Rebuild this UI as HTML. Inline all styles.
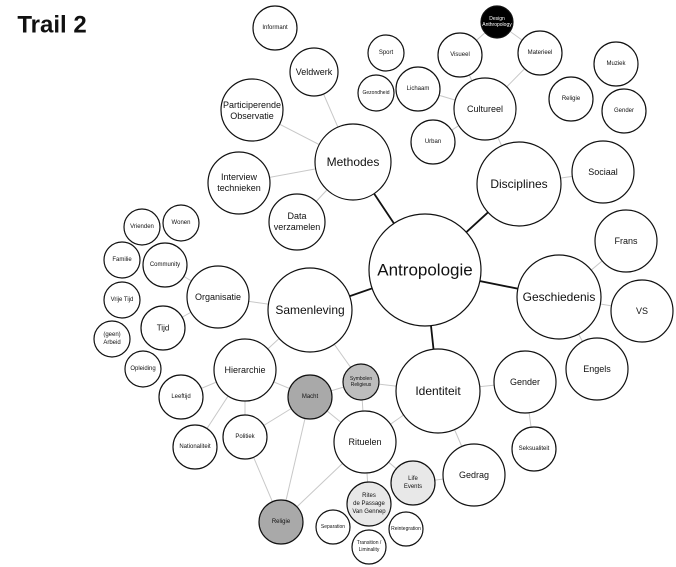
<!DOCTYPE html>
<html><head><meta charset="utf-8"><style>
html,body{margin:0;padding:0;background:#fff;width:676px;height:567px;overflow:hidden}
svg text{font-family:"Liberation Sans",sans-serif;text-anchor:middle;dominant-baseline:central;fill:#111}
</style></head><body>
<svg width="676" height="567" viewBox="0 0 676 567" xmlns="http://www.w3.org/2000/svg">
<text x="52" y="25" style="font-size:24px;font-weight:bold;text-anchor:middle">Trail 2</text>
<g stroke="#c8c8c8" stroke-width="1">
<line x1="353" y1="162" x2="314" y2="72"/><line x1="353" y1="162" x2="252" y2="110"/>
<line x1="353" y1="162" x2="239" y2="183"/><line x1="353" y1="162" x2="297" y2="222"/>
<line x1="519" y1="184" x2="485" y2="109"/><line x1="519" y1="184" x2="603" y2="172"/>
<line x1="485" y1="109" x2="460" y2="55"/><line x1="485" y1="109" x2="540" y2="53"/>
<line x1="485" y1="109" x2="418" y2="89"/><line x1="485" y1="109" x2="433" y2="142"/>
<line x1="460" y1="55" x2="497" y2="22"/><line x1="540" y1="53" x2="497" y2="22"/>
<line x1="559" y1="297" x2="626" y2="241"/><line x1="559" y1="297" x2="642" y2="311"/><line x1="559" y1="297" x2="597" y2="369"/>
<line x1="438" y1="391" x2="525" y2="382"/><line x1="525" y1="382" x2="534" y2="449"/>
<line x1="438" y1="391" x2="474" y2="475"/><line x1="438" y1="391" x2="361" y2="382"/><line x1="438" y1="391" x2="365" y2="442"/>
<line x1="474" y1="475" x2="413" y2="483"/>
<line x1="310" y1="310" x2="218" y2="297"/><line x1="310" y1="310" x2="245" y2="370"/><line x1="310" y1="310" x2="361" y2="382"/>
<line x1="218" y1="297" x2="165" y2="265"/><line x1="218" y1="297" x2="163" y2="328"/>
<line x1="245" y1="370" x2="181" y2="397"/><line x1="245" y1="370" x2="195" y2="447"/>
<line x1="245" y1="370" x2="245" y2="437"/><line x1="245" y1="370" x2="310" y2="397"/>
<line x1="310" y1="397" x2="361" y2="382"/><line x1="310" y1="397" x2="245" y2="437"/>
<line x1="310" y1="397" x2="281" y2="522"/><line x1="310" y1="397" x2="365" y2="442"/>
<line x1="245" y1="437" x2="281" y2="522"/><line x1="365" y1="442" x2="281" y2="522"/>
<line x1="365" y1="442" x2="361" y2="382"/><line x1="365" y1="442" x2="413" y2="483"/><line x1="365" y1="442" x2="369" y2="504"/>
</g>
<g stroke="#111" stroke-width="1.8">
<line x1="425" y1="270" x2="353" y2="162"/><line x1="425" y1="270" x2="519" y2="184"/>
<line x1="425" y1="270" x2="559" y2="297"/><line x1="425" y1="270" x2="438" y2="391"/>
<line x1="425" y1="270" x2="310" y2="310"/>
</g>
<g stroke="#111" stroke-width="1.2" fill="#fff">
<circle cx="425" cy="270" r="56"/>
<circle cx="353" cy="162" r="38"/><circle cx="519" cy="184" r="42"/>
<circle cx="559" cy="297" r="42"/><circle cx="438" cy="391" r="42"/><circle cx="310" cy="310" r="42"/>
<circle cx="314" cy="72" r="24"/><circle cx="252" cy="110" r="31"/><circle cx="239" cy="183" r="31"/><circle cx="297" cy="222" r="28"/>
<circle cx="275" cy="28" r="22"/><circle cx="386" cy="53" r="18"/><circle cx="376" cy="93" r="18"/>
<circle cx="418" cy="89" r="22"/><circle cx="460" cy="55" r="22"/><circle cx="497" cy="22" r="16" fill="#000"/>
<circle cx="540" cy="53" r="22"/><circle cx="485" cy="109" r="31"/><circle cx="433" cy="142" r="22"/>
<circle cx="571" cy="99" r="22"/><circle cx="616" cy="64" r="22"/><circle cx="624" cy="111" r="22"/>
<circle cx="603" cy="172" r="31"/><circle cx="626" cy="241" r="31"/><circle cx="642" cy="311" r="31"/><circle cx="597" cy="369" r="31"/>
<circle cx="525" cy="382" r="31"/><circle cx="534" cy="449" r="22"/><circle cx="474" cy="475" r="31"/>
<circle cx="218" cy="297" r="31"/><circle cx="245" cy="370" r="31"/>
<circle cx="142" cy="227" r="18"/><circle cx="181" cy="223" r="18"/><circle cx="122" cy="260" r="18"/>
<circle cx="165" cy="265" r="22"/><circle cx="122" cy="300" r="18"/><circle cx="163" cy="328" r="22"/>
<circle cx="112" cy="339" r="18"/><circle cx="143" cy="369" r="18"/><circle cx="181" cy="397" r="22"/>
<circle cx="195" cy="447" r="22"/><circle cx="245" cy="437" r="22"/>
<circle cx="310" cy="397" r="22" fill="#a9a9a9"/><circle cx="361" cy="382" r="18" fill="#bdbdbd"/>
<circle cx="365" cy="442" r="31"/><circle cx="413" cy="483" r="22" fill="#e8e8e8"/><circle cx="369" cy="504" r="22" fill="#e8e8e8"/>
<circle cx="281" cy="522" r="22" fill="#a9a9a9"/>
<circle cx="333" cy="527" r="17"/><circle cx="369" cy="547" r="17"/><circle cx="406" cy="529" r="17"/>
</g>
<text x="425" y="270" style="font-size:17px">Antropologie</text>
<text x="353" y="162" style="font-size:12px">Methodes</text>
<text x="519" y="184" style="font-size:12px">Disciplines</text>
<text x="559" y="297" style="font-size:12px">Geschiedenis</text>
<text x="438" y="391" style="font-size:12px">Identiteit</text>
<text x="310" y="310" style="font-size:12px">Samenleving</text>
<g style="font-size:9px">
<text x="314" y="72">Veldwerk</text>
<text x="252" y="105">Participerende</text><text x="252" y="116">Observatie</text>
<text x="239" y="177">Interview</text><text x="239" y="188">technieken</text>
<text x="297" y="216">Data</text><text x="297" y="227">verzamelen</text>
<text x="485" y="109">Cultureel</text><text x="603" y="172">Sociaal</text>
<text x="626" y="241">Frans</text><text x="642" y="311">VS</text><text x="597" y="369">Engels</text>
<text x="525" y="382">Gender</text><text x="474" y="475">Gedrag</text>
<text x="218" y="297">Organisatie</text><text x="245" y="370">Hierarchie</text><text x="365" y="442">Rituelen</text>
</g>
<g style="font-size:6px">
<text x="275" y="28">Informant</text><text x="386" y="53">Sport</text><text x="376" y="93" style="font-size:5px">Gezondheid</text>
<text x="418" y="89">Lichaam</text><text x="460" y="55">Visueel</text><text x="540" y="53">Materieel</text>
<text x="433" y="142">Urban</text><text x="571" y="99">Religie</text><text x="616" y="64">Muziek</text><text x="624" y="111">Gender</text>
<text x="534" y="449">Seksualiteit</text>
<text x="142" y="227">Vrienden</text><text x="181" y="223">Wonen</text><text x="122" y="260">Familie</text>
<text x="165" y="265">Community</text><text x="122" y="300">Vrije Tijd</text><text x="163" y="328" style="font-size:8px">Tijd</text>
<text x="112" y="335">(geen)</text><text x="112" y="343">Arbeid</text><text x="143" y="369">Opleiding</text>
<text x="181" y="397">Leeftijd</text><text x="195" y="447">Nationaliteit</text><text x="245" y="437">Politiek</text>
<text x="310" y="397">Macht</text>
<text x="413" y="479">Life</text><text x="413" y="487">Events</text>
<text x="369" y="496">Rites</text><text x="369" y="504">de Passage</text><text x="369" y="512">Van Gennep</text>
<text x="281" y="522">Religie</text>
<text x="333" y="527" style="font-size:5px">Separation</text>
<text x="369" y="543" style="font-size:5px">Transition /</text><text x="369" y="550" style="font-size:5px">Liminality</text>
<text x="406" y="529" style="font-size:5px">Reintegration</text>
<text x="361" y="379" style="font-size:5px">Symbolen</text><text x="361" y="385" style="font-size:5px">Religieus</text>
<text x="497" y="19" style="font-size:5px;fill:#fff">Design</text><text x="497" y="25" style="font-size:5px;fill:#fff">Anthropology</text>
</g>
</svg>
</body></html>
